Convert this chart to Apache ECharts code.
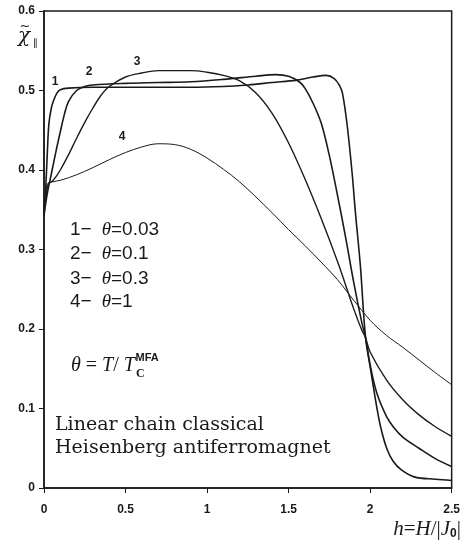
<!DOCTYPE html>
<html><head><meta charset="utf-8">
<script src="https://cdn.jsdelivr.net/npm/echarts@6/dist/echarts.min.js"></script>
<style>html,body{margin:0;padding:0;background:#fff}#c{width:463px;height:542px}</style>
</head><body><div id="c"></div>
<script>
// ---- data ----
const xTicks = [0, 0.5, 1, 1.5, 2, 2.5];
const xTickLabels = ['0', '0.5', '1', '1.5', '2', '2.5'];
const yTicks = [0, 0.1, 0.2, 0.3, 0.4, 0.5, 0.6];
const yTickLabels = ['0', '0.1', '0.2', '0.3', '0.4', '0.5', '0.6'];

const curveNames = ['1', '2', '3', '4'];
const thetas = ['0.03', '0.1', '0.3', '1'];

const h1 = [0, 0.01, 0.02, 0.03, 0.045, 0.06, 0.08, 0.1, 0.15, 0.3, 0.6, 0.9, 1.1, 1.25, 1.4, 1.55, 1.65, 1.73, 1.78, 1.81, 1.83, 1.86, 1.89, 1.91, 1.94, 1.972, 2.003, 2.043, 2.07, 2.105, 2.14, 2.19, 2.27, 2.4, 2.5];
const chi1 = [0.343, 0.375, 0.42, 0.458, 0.478, 0.488, 0.497, 0.501, 0.503, 0.504, 0.504, 0.504, 0.505, 0.507, 0.510, 0.513, 0.517, 0.519, 0.515, 0.507, 0.497, 0.455, 0.395, 0.346, 0.28, 0.189, 0.149, 0.099, 0.072, 0.048, 0.034, 0.023, 0.014, 0.011, 0.0095];

const h2 = [0, 0.02, 0.05, 0.075, 0.1, 0.125, 0.15, 0.2, 0.25, 0.3, 0.5, 0.7, 0.9, 1.1, 1.3, 1.42, 1.5, 1.565, 1.6, 1.65, 1.7, 1.75, 1.8, 1.85, 1.9, 1.95, 1.972, 2.0, 2.04, 2.1, 2.145, 2.2, 2.3, 2.4, 2.5];
const chi2 = [0.343, 0.37, 0.400, 0.425, 0.448, 0.470, 0.486, 0.500, 0.505, 0.507, 0.509, 0.510, 0.511, 0.514, 0.518, 0.520, 0.518, 0.511, 0.503, 0.484, 0.459, 0.418, 0.368, 0.315, 0.258, 0.207, 0.189, 0.155, 0.120, 0.090, 0.076, 0.064, 0.050, 0.037, 0.027];

const h3 = [0, 0.025, 0.05, 0.075, 0.1, 0.15, 0.2, 0.25, 0.3, 0.35, 0.4, 0.5, 0.6, 0.7, 0.8, 0.9, 1.0, 1.1, 1.2, 1.3, 1.4, 1.5, 1.6, 1.7, 1.8, 1.85, 1.9, 1.95, 1.972, 2.0, 2.1, 2.2, 2.3, 2.4, 2.5];
const chi3 = [0.343, 0.382, 0.386, 0.392, 0.400, 0.419, 0.440, 0.460, 0.478, 0.494, 0.505, 0.517, 0.522, 0.525, 0.525, 0.525, 0.523, 0.519, 0.512, 0.497, 0.471, 0.434, 0.389, 0.339, 0.285, 0.255, 0.225, 0.198, 0.189, 0.171, 0.136, 0.111, 0.092, 0.077, 0.065];

const h4 = [0, 0.02, 0.05, 0.1, 0.2, 0.3, 0.4, 0.5, 0.6, 0.7, 0.8, 0.9, 1.0, 1.1, 1.2, 1.3, 1.4, 1.5, 1.6, 1.7, 1.8, 1.9, 2.0, 2.1, 2.2, 2.3, 2.4, 2.5];
const chi4 = [0.345, 0.382, 0.385, 0.387, 0.394, 0.403, 0.413, 0.422, 0.429, 0.433, 0.432, 0.426, 0.415, 0.401, 0.385, 0.366, 0.346, 0.325, 0.305, 0.284, 0.262, 0.236, 0.211, 0.192, 0.177, 0.161, 0.145, 0.130];

// ---- chart ----
const INK = '#1a1a1a';
const chart = echarts.init(document.getElementById('c'), null, {renderer: 'canvas'});
const pairs = (h, c) => h.map((v, i) => [v, c[i]]);
const lab = (ticks, labels) => v => { const i = ticks.findIndex(t => Math.abs(t - v) < 1e-9); return i < 0 ? '' : labels[i]; };

const curves = [[h1, chi1, 1.6], [h2, chi2, 1.6], [h3, chi3, 1.4], [h4, chi4, 1.0]];
const series = curves.map((c, i) => ({
  name: curveNames[i], type: 'line', data: pairs(c[0], c[1]), showSymbol: false, symbol: 'none',
  smooth: 0.35, lineStyle: {color: INK, width: c[2]}, z: 3
}));

const serif = '"Liberation Serif","DejaVu Serif",serif';
const sans = '"Liberation Sans","DejaVu Sans",sans-serif';
const graphic = [
  {type: 'text', x: 24, y: 37, style: {text: 'χ', font: 'italic 20px "DejaVu Serif"', fill: INK, align: 'center', verticalAlign: 'middle'}},
  {type: 'text', x: 25, y: 27, style: {text: '~', font: '13px "DejaVu Sans"', fill: INK, align: 'center', verticalAlign: 'middle'}},
  {type: 'text', x: 33, y: 43, style: {text: '∥', font: '10px "DejaVu Sans"', fill: INK, align: 'left', verticalAlign: 'middle'}},
  {type: 'text', x: 55, y: 82, style: {text: curveNames[0], font: 'bold 12px ' + sans, fill: INK, align: 'center', verticalAlign: 'middle'}},
  {type: 'text', x: 89, y: 72, style: {text: curveNames[1], font: 'bold 12px ' + sans, fill: INK, align: 'center', verticalAlign: 'middle'}},
  {type: 'text', x: 137, y: 62, style: {text: curveNames[2], font: 'bold 12px ' + sans, fill: INK, align: 'center', verticalAlign: 'middle'}},
  {type: 'text', x: 122, y: 137, style: {text: curveNames[3], font: 'bold 12px ' + sans, fill: INK, align: 'center', verticalAlign: 'middle'}}
];
const legendY = [230, 254, 279, 302];
thetas.forEach((t, i) => {
  graphic.push({type: 'text', x: 70, y: legendY[i], style: {
    text: '{n|' + curveNames[i] + '−}   {t|θ}{n|=' + t + '}', verticalAlign: 'middle',
    rich: {n: {font: '19px ' + sans, fill: INK}, t: {font: 'italic 19px ' + serif, fill: INK}}}});
});
graphic.push({type: 'text', x: 71, y: 366, style: {
  text: '{t|θ}{n| = }{t|T}{n|/ }{t|T}{sub|C}{sup|MFA}', verticalAlign: 'middle',
  rich: {t: {font: 'italic 20px ' + serif, fill: INK}, n: {font: '20px ' + serif, fill: INK},
    sub: {font: 'bold 12px ' + serif, fill: INK, padding: [16, 0, 0, 1]},
    sup: {font: 'bold 11px ' + sans, fill: INK, padding: [0, 0, 16, -9]}}}});
graphic.push({type: 'text', x: 55, y: 425, style: {text: 'Linear chain classical', font: '19px "DejaVu Serif"', fill: INK, verticalAlign: 'middle'}});
graphic.push({type: 'text', x: 55, y: 448, style: {text: 'Heisenberg antiferromagnet', font: '19px "DejaVu Serif"', fill: INK, verticalAlign: 'middle'}});
graphic.push({type: 'text', x: 461, y: 529, style: {
  text: '{t|h}{n|=}{t|H}{n|/|}{t|J}{sub|0}{n||}', align: 'right', verticalAlign: 'middle',
  rich: {t: {font: 'italic 21px ' + serif, fill: INK}, n: {font: '21px ' + serif, fill: INK},
    sub: {font: 'bold 12px ' + sans, fill: INK, padding: [9, 0, 0, 0]}}}});

chart.setOption({
  animation: false,
  backgroundColor: '#fff',
  grid: {left: 44, right: 10, top: 11, bottom: 54, show: true, borderColor: INK, borderWidth: 1.5},
  xAxis: {type: 'value', min: 0, max: 2.5, interval: 0.5,
    axisLine: {show: true, onZero: false, lineStyle: {color: INK, width: 1.5}},
    axisTick: {show: true, length: 5, lineStyle: {color: INK, width: 1}},
    splitLine: {show: false},
    axisLabel: {margin: 16, color: INK, fontFamily: sans, fontWeight: 'bold', fontSize: 12, formatter: lab(xTicks, xTickLabels)}},
  yAxis: {type: 'value', min: 0, max: 0.6, interval: 0.1,
    axisLine: {show: true, onZero: false, lineStyle: {color: INK, width: 1.5}},
    axisTick: {show: true, length: 5, lineStyle: {color: INK, width: 1}},
    splitLine: {show: false},
    axisLabel: {margin: 9, color: INK, fontFamily: sans, fontWeight: 'bold', fontSize: 12, formatter: lab(yTicks, yTickLabels)}},
  series: series,
  graphic: graphic
});
</script></body></html>
